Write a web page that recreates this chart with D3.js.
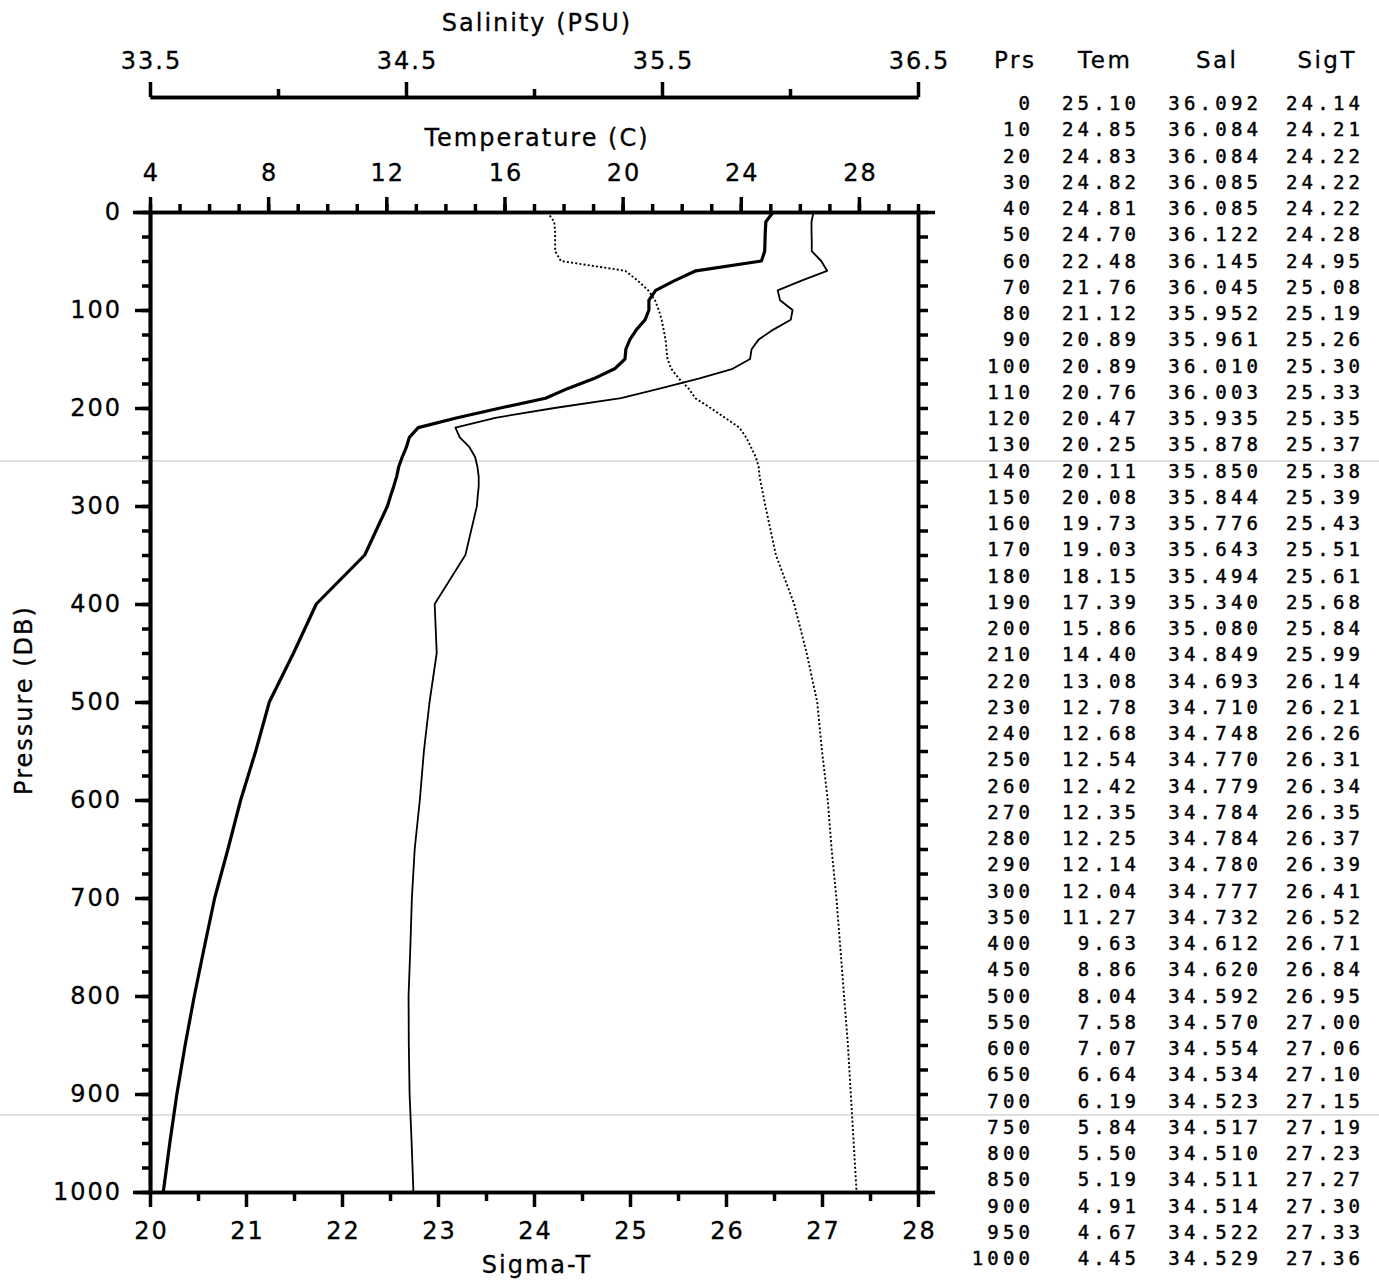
<!DOCTYPE html>
<html>
<head>
<meta charset="utf-8">
<script src="https://cdn.jsdelivr.net/npm/d3@7"></script>
<style>
  html, body { margin: 0; padding: 0; background: #fff; }
  svg { display: block; }
  .lbl { font-family: "DejaVu Sans", sans-serif; font-size: 24px; letter-spacing: 2px; fill: #000; stroke: #000; stroke-width: 0.3px; }
  .hdr { font-family: "DejaVu Sans", sans-serif; font-size: 23px; letter-spacing: 2.5px; fill: #000; stroke: #000; stroke-width: 0.3px; }
  .tbl { font-family: "DejaVu Sans Mono", monospace; font-size: 19px; letter-spacing: 4.2px; fill: #000; stroke: #000; stroke-width: 0.45px; }
</style>
</head>
<body>
<svg id="chart" width="1379" height="1283"></svg>
<script>
const pressure = [0,10,20,30,40,50,60,70,80,90,100,110,120,130,140,150,160,170,180,190,200,210,220,230,240,250,260,270,280,290,300,350,400,450,500,550,600,650,700,750,800,850,900,950,1000];
const temperature = [25.10,24.85,24.83,24.82,24.81,24.70,22.48,21.76,21.12,20.89,20.89,20.76,20.47,20.25,20.11,20.08,19.73,19.03,18.15,17.39,15.86,14.40,13.08,12.78,12.68,12.54,12.42,12.35,12.25,12.14,12.04,11.27,9.63,8.86,8.04,7.58,7.07,6.64,6.19,5.84,5.50,5.19,4.91,4.67,4.45];
const salinity = [36.092,36.084,36.084,36.085,36.085,36.122,36.145,36.045,35.952,35.961,36.010,36.003,35.935,35.878,35.850,35.844,35.776,35.643,35.494,35.340,35.080,34.849,34.693,34.710,34.748,34.770,34.779,34.784,34.784,34.780,34.777,34.732,34.612,34.620,34.592,34.570,34.554,34.534,34.523,34.517,34.510,34.511,34.514,34.522,34.529];
const sigmaT = [24.14,24.21,24.22,24.22,24.22,24.28,24.95,25.08,25.19,25.26,25.30,25.33,25.35,25.37,25.38,25.39,25.43,25.51,25.61,25.68,25.84,25.99,26.14,26.21,26.26,26.31,26.34,26.35,26.37,26.39,26.41,26.52,26.71,26.84,26.95,27.00,27.06,27.10,27.15,27.19,27.23,27.27,27.30,27.33,27.36];

const salinityMajorTicks = [33.5,34.5,35.5,36.5];
const salinityMinorTicks = [34,35,36];
const temperatureMajorTicks = [4,8,12,16,20,24,28];
const temperatureMinorTicks = d3.range(4,31,1);
const sigmaMajorTicks = [20,21,22,23,24,25,26,27,28];
const sigmaMinorTicks = [20.5,21.5,22.5,23.5,24.5,25.5,26.5,27.5];
const pressureMajorTicks = d3.range(0,1001,100);
const pressureMinorTicks = d3.range(0,1001,25);
const tableHeaders = ["Prs","Tem","Sal","SigT"];

// ---- Layout ----
const L = 150, R = 918, T = 212, B = 1192;
const svg = d3.select("#chart");

const y = d3.scaleLinear().domain([0,1000]).range([T,B]);
const xT = d3.scaleLinear().domain([4,30]).range([L,R]);
const xS = d3.scaleLinear().domain([33.5,36.5]).range([L,R]);
const xD = d3.scaleLinear().domain([20,28]).range([L,R]);

// faint scan lines (artifacts in reference)
[461,1115].forEach(yy => svg.append("line").attr("x1",0).attr("x2",1379).attr("y1",yy).attr("y2",yy)
  .attr("stroke","#d4d4d4").attr("stroke-width",1.5));

function styleAxis(g, sw) {
  g.selectAll("path.domain").attr("stroke","#000").attr("stroke-width",sw);
  g.selectAll(".tick line").attr("stroke","#000").attr("stroke-width",sw).attr("stroke-linecap","butt");
  g.selectAll(".tick text").attr("class","lbl").attr("fill","#000");
  g.attr("font-family",null).attr("font-size",null);
}

const AX = 3.5;

// Salinity axis (top, detached)
const gS1 = svg.append("g").attr("transform",`translate(0,97)`)
  .call(d3.axisTop(xS).tickValues(salinityMinorTicks).tickSize(8).tickSizeOuter(0).tickFormat(""));
styleAxis(gS1, AX);
const gS2 = svg.append("g").attr("transform",`translate(0,97)`)
  .call(d3.axisTop(xS).tickValues(salinityMajorTicks).tickSize(15).tickSizeOuter(0).tickPadding(13).tickFormat(d3.format(".1f")));
styleAxis(gS2, AX);
gS2.selectAll(".tick text").attr("dx","1");

// Temperature axis (top of frame)
const gT1 = svg.append("g").attr("transform",`translate(0,${T})`)
  .call(d3.axisTop(xT).tickValues(temperatureMinorTicks).tickSize(8).tickSizeOuter(0).tickFormat(""));
styleAxis(gT1, AX);
const gT2 = svg.append("g").attr("transform",`translate(0,${T})`)
  .call(d3.axisTop(xT).tickValues(temperatureMajorTicks).tickSize(15).tickSizeOuter(0).tickPadding(16).tickFormat(d3.format("d")));
styleAxis(gT2, AX);
gT2.selectAll(".tick text").attr("dx","1");

// Sigma-T axis (bottom)
const gD1 = svg.append("g").attr("transform",`translate(0,${B})`)
  .call(d3.axisBottom(xD).tickValues(sigmaMinorTicks).tickSize(9).tickSizeOuter(0).tickFormat(""));
styleAxis(gD1, AX);
const gD2 = svg.append("g").attr("transform",`translate(0,${B})`)
  .call(d3.axisBottom(xD).tickValues(sigmaMajorTicks).tickSize(15).tickSizeOuter(0).tickPadding(15).tickFormat(d3.format("d")));
styleAxis(gD2, AX);
gD2.selectAll(".tick text").attr("dx","1");

// Pressure axis (left)
const gP1 = svg.append("g").attr("transform",`translate(${L},0)`)
  .call(d3.axisLeft(y).tickValues(pressureMinorTicks).tickSize(8).tickSizeOuter(0).tickFormat(""));
styleAxis(gP1, AX);
const gP2 = svg.append("g").attr("transform",`translate(${L},0)`)
  .call(d3.axisLeft(y).tickValues(pressureMajorTicks).tickSize(15).tickSizeOuter(0).tickPadding(15).tickFormat(d3.format("d")));
styleAxis(gP2, AX);
gP2.selectAll(".tick text").attr("dx","2");

// Right axis
const gR = svg.append("g").attr("transform",`translate(${R},0)`)
  .call(d3.axisRight(y).tickValues(pressureMinorTicks).tickSize(10).tickSizeOuter(0).tickFormat(""));
styleAxis(gR, AX);
const gR2 = svg.append("g").attr("transform",`translate(${R},0)`)
  .call(d3.axisRight(y).tickValues([0,1000]).tickSize(17).tickSizeOuter(0).tickFormat(""));
styleAxis(gR2, AX);
// extend top/bottom frame lines to the left
const gL2 = svg.append("g").attr("transform",`translate(${L},0)`)
  .call(d3.axisLeft(y).tickValues([0,1000]).tickSize(17).tickSizeOuter(0).tickFormat(""));
styleAxis(gL2, AX);

// Axis titles
svg.append("text").attr("class","lbl").attr("x",537).attr("y",31).attr("text-anchor","middle").text("Salinity (PSU)");
svg.append("text").attr("class","lbl").attr("x",537).attr("y",146).attr("text-anchor","middle").text("Temperature (C)");
svg.append("text").attr("class","lbl").attr("x",537).attr("y",1273).attr("text-anchor","middle").text("Sigma-T");
svg.append("text").attr("class","lbl").attr("transform","translate(32,700) rotate(-90)").attr("text-anchor","middle").text("Pressure (DB)");

// ---- Profiles ----
const idx = d3.range(pressure.length);
const lineT = d3.line().x(i => xT(temperature[i])).y(i => y(pressure[i]));
const lineS = d3.line().x(i => xS(salinity[i])).y(i => y(pressure[i]));
const lineD = d3.line().x(i => xD(sigmaT[i])).y(i => y(pressure[i]));

svg.append("path").attr("d", lineD(idx)).attr("fill","none").attr("stroke","#000")
  .attr("stroke-width",1.9).attr("stroke-dasharray","2,2.2");
svg.append("path").attr("d", lineS(idx)).attr("fill","none").attr("stroke","#000")
  .attr("stroke-width",1.8).attr("stroke-linejoin","round");
svg.append("path").attr("d", lineT(idx)).attr("fill","none").attr("stroke","#000")
  .attr("stroke-width",3.2).attr("stroke-linejoin","round");

// ---- Table ----
const colRight = [1030, 1136, 1258, 1360];
const colHeadX = [1014, 1104, 1216, 1326];
const row0 = 110, rowStep = 26.25;
tableHeaders.forEach((h,j) => svg.append("text").attr("class","hdr").attr("x",colHeadX[j]+1.2).attr("y",68)
  .attr("text-anchor","middle").text(h));
const cols = [
  pressure.map(d => String(d)),
  temperature.map(d => d.toFixed(2)),
  salinity.map(d => d.toFixed(3)),
  sigmaT.map(d => d.toFixed(2))
];
cols.forEach((col,j) => {
  svg.append("g").selectAll("text").data(col).join("text")
    .attr("class","tbl")
    .attr("x", colRight[j] + 4.2)
    .attr("y", (d,i) => row0 + i*rowStep)
    .attr("text-anchor","end")
    .text(d => d);
});
</script>
</body>
</html>
